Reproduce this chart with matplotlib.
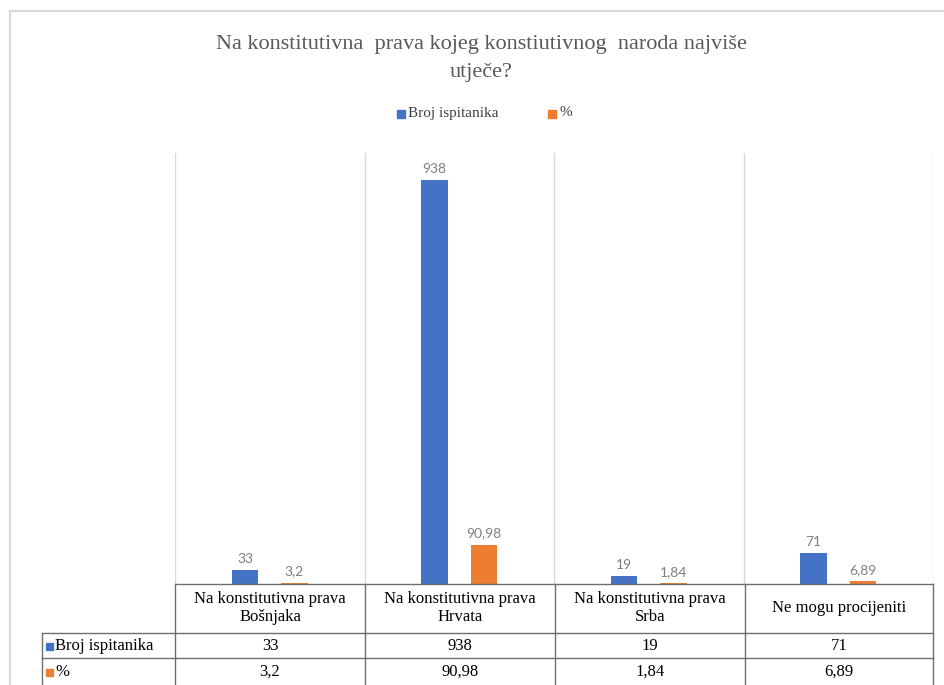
import matplotlib.pyplot as plt
import numpy as np

categories = ["Na konstitutivna prava\nBošnjaka", "Na konstitutivna prava\nHrvata",
              "Na konstitutivna prava\nSrba", "Ne mogu procijeniti"]
broj = [33, 938, 19, 71]
postotak = [3.2, 90.98, 1.84, 6.89]
broj_labels = ["33", "938", "19", "71"]
post_labels = ["3,2", "90,98", "1,84", "6,89"]
series_names = ["Broj ispitanika", "%"]

blue = "#4472C4"
orange = "#ED7D31"
W, H = 944, 685

fig = plt.figure(figsize=(9.44, 6.85), dpi=100)

def fx(px):
    return px / W

def fy(py):
    return 1 - py / H

# chart border (top and left visible)
fig.add_artist(plt.Line2D([fx(10), 1], [fy(11), fy(11)], color="#d9d9d9", lw=1.5))
fig.add_artist(plt.Line2D([fx(10), fx(10)], [fy(11), 0], color="#d9d9d9", lw=1.5))

left, right, top, bottom = 175, 933, 153, 584
ax = fig.add_axes([fx(left), fy(bottom), fx(right - left), (bottom - top) / H])

x = np.arange(len(categories))
bw = 0.14
b1 = ax.bar(x - 0.13, broj, bw, color=blue)
b2 = ax.bar(x + 0.13, postotak, bw, color=orange)
for rect, lab in zip(b1, broj_labels):
    ax.text(rect.get_x() + rect.get_width() / 2, rect.get_height() + 12, lab,
            ha="center", va="bottom", color="#7f7f7f", fontsize=10, family="Lato")
for rect, lab in zip(b2, post_labels):
    ax.text(rect.get_x() + rect.get_width() / 2, rect.get_height() + 12, lab,
            ha="center", va="bottom", color="#7f7f7f", fontsize=10, family="Lato")

ax.set_xlim(-0.5, len(categories) - 0.5)
ax.set_ylim(0, 1000)
for b in np.arange(-0.5, len(categories) + 0.5, 1):
    ax.axvline(b, color="#d9d9d9", lw=1, zorder=0)
for s in ax.spines.values():
    s.set_visible(False)
ax.set_xticks([])
ax.set_yticks([])

# title
fig.text(fx(481), fy(45), "Na konstitutivna  prava kojeg konstiutivnog  naroda najviše",
         ha="center", va="center", fontsize=16, color="#595959", family="Liberation Serif")
fig.text(fx(481), fy(72), "utječe?", ha="center", va="center", fontsize=16,
         color="#595959", family="Liberation Serif")

# legend
fig.add_artist(plt.Rectangle((fx(397), fy(118)), fx(8), 8 / H, color=blue))
fig.text(fx(408), fy(113), series_names[0], ha="left", va="center", fontsize=11,
         color="#404040", family="Liberation Serif")
fig.add_artist(plt.Rectangle((fx(548), fy(118)), fx(8), 8 / H, color=orange))
fig.text(fx(559), fy(113), series_names[1], ha="left", va="center", fontsize=11,
         color="#404040", family="Liberation Serif")

# data table
line_c = "#6e6e6e"
rows_y = [584, 633, 658, 685]
cols_x = [175, 365, 555, 745, 933]
for yy in rows_y[:3]:
    x0 = 175 if yy == 584 else 42
    fig.add_artist(plt.Line2D([fx(x0), fx(933)], [fy(yy), fy(yy)], color=line_c, lw=1))
for xx in cols_x:
    fig.add_artist(plt.Line2D([fx(xx), fx(xx)], [fy(584), 0], color=line_c, lw=1))
fig.add_artist(plt.Line2D([fx(42), fx(42)], [fy(633), 0], color=line_c, lw=1))

tfont = dict(family="Liberation Serif", fontsize=12, color="black")
for i, cat in enumerate(categories):
    cx = (cols_x[i] + cols_x[i + 1]) / 2
    fig.text(fx(cx), fy(608), cat, ha="center", va="center", linespacing=1.15, **tfont)
    fig.text(fx(cx), fy(646), broj_labels[i], ha="center", va="center", **tfont)
    fig.text(fx(cx), fy(672), post_labels[i], ha="center", va="center", **tfont)

for yy, name, c in [(646, series_names[0], blue), (672, series_names[1], orange)]:
    fig.add_artist(plt.Rectangle((fx(46), fy(yy + 4)), fx(7), 7 / H, color=c))
    fig.text(fx(55), fy(yy), name, ha="left", va="center", **tfont)

fig.savefig("out.png", dpi=100)
